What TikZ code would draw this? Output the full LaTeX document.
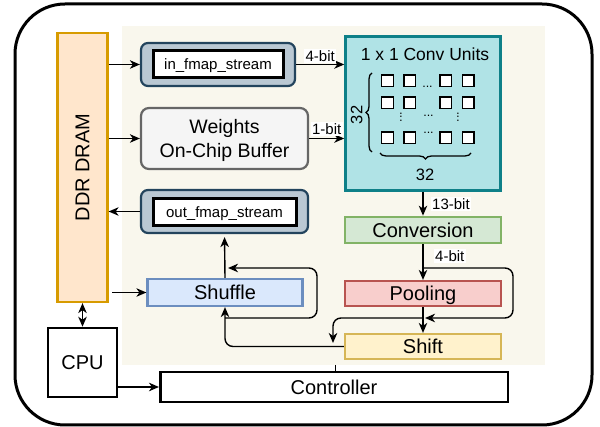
\documentclass[tikz,border=0pt]{standalone}
\usepackage{fontspec}
\setmainfont{Liberation Sans}
\usetikzlibrary{arrows.meta,decorations.pathreplacing,calc}
\definecolor{ddrfill}{HTML}{FFE6CC}\definecolor{ddrline}{HTML}{D79B00}
\definecolor{stfill}{HTML}{BAC8D3}\definecolor{stline}{HTML}{23445D}
\definecolor{wfill}{HTML}{F5F5F5}\definecolor{wline}{HTML}{666666}
\definecolor{cvfill}{HTML}{B0E3E6}\definecolor{cvline}{HTML}{0E8088}
\definecolor{cnfill}{HTML}{D5E8D4}\definecolor{cnline}{HTML}{82B366}
\definecolor{plfill}{HTML}{F8CECC}\definecolor{plline}{HTML}{B85450}
\definecolor{shfill}{HTML}{FFF2CC}\definecolor{shline}{HTML}{D6B656}
\definecolor{sufill}{HTML}{DAE8FC}\definecolor{suline}{HTML}{6C8EBF}
\definecolor{bgfill}{HTML}{F9F7ED}
\newcommand\fsz[2]{\fontsize{#1}{#2}\selectfont}
\begin{document}
\begin{tikzpicture}[x=1pt,y=-1pt,
  arr/.style={-{Stealth[length=10pt,width=8.5pt,inset=3pt]}, line width=1.4pt},
  darr/.style={{Stealth[length=10pt,width=8.5pt,inset=3pt]}-{Stealth[length=10pt,width=8.5pt,inset=3pt]}, line width=1.4pt},
  box/.style={draw, line width=2.2pt, inner sep=0pt, text depth=0pt, font=\fsz{20}{24}},
  stream/.style={draw=stline, fill=stfill, line width=2.2pt, rounded corners=7pt, inner sep=0pt},
  streamin/.style={draw=black, fill=white, line width=3pt, inner sep=0pt, text depth=0pt, font=\fsz{15}{18}},
  lbl/.style={fill=white, inner sep=1.5pt, text depth=0pt, font=\fsz{15}{18}},
  sq/.style={draw=black, fill=white, line width=1.3pt, minimum size=11.5pt, inner sep=0pt},
  dots/.style={inner sep=0pt, font=\fsz{12.5}{12}},
  brc/.style={decorate, decoration={brace, amplitude=6pt}, line width=1.3pt}
]
\useasboundingbox (0,0) rectangle (600,427);
% frame and background
\draw[line width=3pt, rounded corners=50pt] (15,4) rectangle (592,425);
\fill[bgfill] (122,26) rectangle (545,365);
% blocks
\node[box, draw=ddrline, fill=ddrfill, minimum width=50pt, minimum height=269pt] (ddr) at (82.5,167.5) {\rotatebox{90}{DDR DRAM}};
\node[stream, minimum width=154pt, minimum height=43pt] (inf) at (218,64.5) {};
\node[streamin, minimum width=130pt, minimum height=27pt] (infi) at (inf.center) {in\_fmap\_stream};
\node[box, draw=wline, fill=wfill, rounded corners=8pt, minimum width=167pt, minimum height=61pt, align=center, font=\fsz{19.5}{24.3}] (wb) at (224.5,138.5) {Weights\\On-Chip Buffer};
\node[stream, minimum width=167pt, minimum height=43pt] (outf) at (224.5,211.5) {};
\node[streamin, minimum width=143pt, minimum height=27pt] (outfi) at (224.5,212.5) {out\_fmap\_stream};
\node[box, draw=cvline, fill=cvfill, line width=2.5pt, minimum width=155pt, minimum height=154pt] (conv) at (423,113.5) {};
\node[inner sep=0pt, text depth=0pt, font=\fsz{17.5}{20}] (ctitle) at (425,54) {1 x 1 Conv Units};
\node[box, draw=cnline, fill=cnfill, minimum width=156pt, minimum height=26.5pt] (cvs) at (423,230) {Conversion};
\node[box, draw=plline, fill=plfill, minimum width=156pt, minimum height=25pt] (pool) at (423,293.5) {Pooling};
\node[box, draw=shline, fill=shfill, minimum width=156pt, minimum height=25pt] (shift) at (423,346.5) {Shift};
\node[box, draw=suline, fill=sufill, minimum width=155pt, minimum height=27pt] (shuf) at (225,292.5) {Shuffle};
\node[box, draw=black, line width=2.5pt, fill=white, minimum width=69pt, minimum height=69pt] (cpu) at (82.5,362.5) {CPU};
\node[box, draw=black, line width=2.5pt, fill=white, minimum width=347.5pt, minimum height=30pt] (ctrl) at (334,387) {Controller};
% conv grid
\foreach \x [count=\i] in {387.5,409.8,445.8,468.2}{
  \foreach \y [count=\j] in {80.8,102.8,137.8}{
    \node[sq] (s\i\j) at (\x,\y) {};
  }
}
\node[dots] (d1) at (427.5,87) {...};
\node[dots] (d2) at (428.5,116) {...};
\node[dots] (d3) at (428.5,132.5) {...};
\node[dots, rotate=90] (d4) at (401,117) {...};
\node[dots, rotate=90] (d5) at (458,117) {...};
\coordinate (bl1) at (372,152);
\coordinate (bl2) at (372,73);
\draw[brc] (bl1) -- (bl2);
\node[inner sep=0pt, text depth=0pt, rotate=90, font=\fsz{16.5}{18}] (n32a) at (356.5,115) {32};
\coordinate (bb1) at (471,153);
\coordinate (bb2) at (380,153);
\draw[brc] (bb1) -- (bb2);
\node[inner sep=0pt, text depth=0pt, font=\fsz{16.5}{18}] (n32b) at (425,175) {32};
% connectors
\draw[arr] (ddr.east |- inf.west) -- (inf.west);
\draw[arr] (ddr.east |- wb.west) -- (wb.west);
\draw[arr] (outf.west) -- (ddr.east |- outf.west);
\draw[arr, shorten <=3.5pt] (ddr.east |- shuf.west) -- (shuf.west);
\draw[darr] (ddr.south) -- (cpu.north);
\draw[arr] (cpu.south east |- ctrl.west) -- (ctrl.west);
\draw[arr] (inf.east) -- node[lbl, above, yshift=1pt] {4-bit} (inf.east -| conv.west);
\draw[arr] (wb.east) -- node[lbl, above, yshift=2pt] {1-bit} (wb.east -| conv.west);
\draw[arr] (conv.south) -- node[lbl, anchor=west, xshift=7pt] {13-bit} (cvs.north);
\draw[arr] (cvs.south) -- node[lbl, pos=0.34, anchor=west, xshift=10pt] {4-bit} (pool.north);
\coordinate (j1) at (423,268);
\coordinate (j2) at (423,318);
\coordinate (j2e) at (425,318);
\draw[arr, rounded corners=8pt] (j1) -- ++(90,0) -- ++(0,50) -- (j2e);
\draw[arr] (pool.south) -- (shift.north);
\draw[arr, rounded corners=8pt] (j2) -- ++(-90,0) -- ++(0,25);
\draw[arr, rounded corners=8pt] (shift.west) -| (shuf.south);
\coordinate (k1) at (225,318);
\coordinate (k2) at (228,268);
\draw[arr, rounded corners=8pt] (k1) -- ++(92,0) -- ++(0,-50) -- (k2);
\draw[arr, shorten >=3pt] (shuf.north) -- (outf.south);
\coordinate (tick) at (335,365);
\draw[line width=1pt] (tick) -- (tick |- ctrl.north);
\end{tikzpicture}
\end{document}
